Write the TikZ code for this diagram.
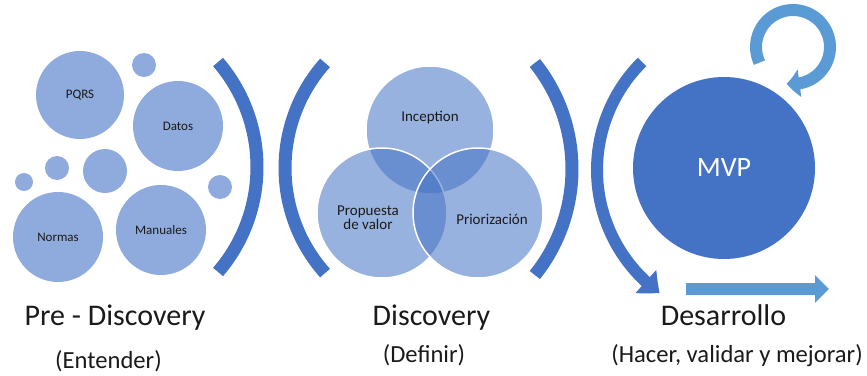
\documentclass[tikz,border=0pt]{standalone}
\usepackage{fontspec}
\setmainfont{Carlito}
\usetikzlibrary{arrows.meta,bending}
\definecolor{dblue}{HTML}{4472C4}
\definecolor{lblue}{HTML}{5B9BD5}
\definecolor{cblue}{HTML}{8FAADC}
\definecolor{txt}{HTML}{1A1A1A}
\tikzset{
  bubble/.style={circle,fill=cblue,inner sep=0pt,text=txt,font=\fontsize{13}{15}\selectfont},
  venn/.style={circle,fill=dblue,fill opacity=0.55,text opacity=1,draw=white,draw opacity=1,line width=1.5pt,inner sep=0pt,text=txt,align=center,font=\fontsize{15}{17}\selectfont},
  bracket/.style={draw=dblue,line width=13pt},
  title/.style={anchor=base,text=txt,font=\fontsize{30}{34}\selectfont,inner sep=0pt},
  subtitle/.style={anchor=base,text=txt,font=\fontsize{24.6}{28}\selectfont,inner sep=0pt},
}
\begin{document}
\begin{tikzpicture}[x=1pt,y=1pt]
\useasboundingbox (0,0) rectangle (867,375);
% Pre-discovery bubbles
\node[bubble,minimum size=88pt] (pqrs) at (80,280) {PQRS};
\node[bubble,minimum size=24pt] (s1) at (144,310) {};
\node[bubble,minimum size=90pt] (datos) at (178,249) {Datos};
\node[bubble,minimum size=24pt] (s2) at (57,207) {};
\node[bubble,minimum size=44pt] (m1) at (105,204) {};
\node[bubble,minimum size=18pt] (s3) at (24,193) {};
\node[bubble,minimum size=24pt] (s4) at (220,188) {};
\node[bubble,minimum size=90pt] (normas) at (58,138) {Normas};
\node[bubble,minimum size=90pt] (manuales) at (161,145) {Manuales};
% brackets
\draw[bracket] (96,208) ++(-40.7:161) arc[start angle=-40.7,end angle=40.7,radius=161];
\draw[bracket] (443,207) ++(138.3:158) arc[start angle=138.3,end angle=221.7,radius=158];
\draw[bracket] (402,206) ++(-38.6:170) arc[start angle=-38.6,end angle=38.6,radius=170];
% Venn
\node[venn,minimum size=128pt] (incep) at (430,245) {};
\node[venn,minimum size=130pt] (prop) at (382,162) {};
\node[venn,minimum size=130pt] (prio) at (478,162) {};
\node[text=txt,font=\fontsize{15}{17}\selectfont] (tincep) at (430,257) {Inception};
\node[text=txt,align=center,font=\fontsize{15}{17}\selectfont] (tprop) at (368,157) {Propuesta\\[-3pt]de valor};
\node[text=txt,font=\fontsize{15}{17}\selectfont] (tprio) at (492,156) {Priorización};
% MVP
\node[circle,fill=dblue,inner sep=0pt,minimum size=182pt,text=white,font=\fontsize{28}{32}\selectfont] (mvp) at (724,207) {MVP};
% arrows
\draw[dblue,line width=12pt,-{Triangle[length=18pt,width=30pt,bend]}] (749,205) ++(134.7:152) arc[start angle=134.7,end angle=234,radius=152];
\draw[lblue,line width=12pt,-{Triangle[length=13pt,width=27pt,bend]}] (793,328) ++(205:37) arc[start angle=205,end angle=-100,radius=37];
\coordinate (sa) at (686,86);
\coordinate (sb) at (829,86);
\draw[lblue,line width=12pt,-{Triangle[length=14pt,width=27pt]}] (sa) -- (sb);
% labels
\node[title] (t1) at (115,50) {Pre - Discovery};
\node[subtitle] (u1) at (108.5,7) {(Entender)};
\node[title] (t2) at (431.5,50) {Discovery};
\node[subtitle] (u2) at (424,13) {(Definir)};
\node[title] (t3) at (723.5,50) {Desarrollo};
\node[subtitle] (u3) at (737,13) {(Hacer, validar y mejorar)};
\end{tikzpicture}
\end{document}
